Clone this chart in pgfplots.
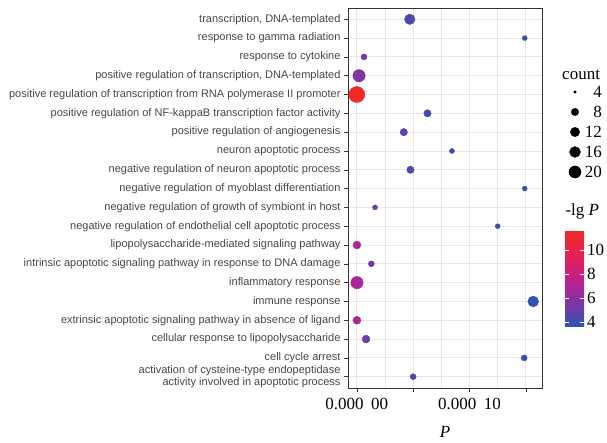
\documentclass[border=0pt]{standalone}
\usepackage{fontspec}
\setmainfont{Liberation Serif}
\newfontfamily\arial{Liberation Sans}
\usepackage{pgfplots}
\pgfplotsset{compat=1.18}
\usepackage{pgfplotstable}
\definecolor{txt}{RGB}{70,70,70}
\definecolor{frame}{RGB}{51,51,51}
\definecolor{gridc}{RGB}{230,230,230}
\pgfplotsset{colormap={lgp}{rgb255(36)=(40,86,180) rgb255(50)=(110,60,170) rgb255(60)=(140,48,160) rgb255(70)=(175,38,150) rgb255(80)=(202,32,125) rgb255(90)=(220,32,100) rgb255(100)=(232,35,72) rgb255(116)=(240,40,40)}}

\pgfplotstableread{
y P lgP count
20 4.70e-5 4.33 15
19 1.49e-4 3.83 5
18 6.4e-6 5.19 6
17 2.0e-6 5.70 21
16 2.5e-12 11.6 36
15 6.27e-5 4.20 8
14 4.17e-5 4.38 8
13 8.44e-5 4.07 5
12 4.76e-5 4.32 8
11 1.49e-4 3.83 5
10 1.62e-5 4.79 5
9 1.25e-4 3.90 5
8 1.26e-7 6.9 9
7 1.29e-5 4.89 6
6 1.6e-7 6.8 21
5 1.565e-4 3.81 16
4 1.26e-7 6.9 9
3 8.2e-6 5.09 9
2 1.485e-4 3.83 6
1 5.0e-5 4.30 6
}\godata

\pgfplotstableread{
y cnt
1 4
2 8
3 12
4 16
5 20
}\sizedata

\begin{document}
\begin{tikzpicture}
\path[use as bounding box] (0,0) rectangle (607pt,443pt);
\begin{axis}[
  at={(348pt,55pt)}, anchor=south west,
  scale only axis, width=194pt, height=380pt,
  xmin=-7.8e-6, xmax=1.643e-4, ymin=0.4, ymax=20.6,
  xtick={0,5e-5,1e-4,1.5e-4},
  xticklabels={0.000\hspace{0.45em}00,,0.000\hspace{0.45em}10,},
  minor xtick={2.5e-5,7.5e-5,1.25e-4},
  scaled x ticks=false,
  ytick={1,...,20},
  yticklabels={{activation of cysteine-type endopeptidase\\activity involved in apoptotic process},
    {cell cycle arrest},
    {cellular response to lipopolysaccharide},
    {extrinsic apoptotic signaling pathway in absence of ligand},
    {immune response},
    {inflammatory response},
    {intrinsic apoptotic signaling pathway in response to DNA damage},
    {lipopolysaccharide-mediated signaling pathway},
    {negative regulation of endothelial cell apoptotic process},
    {negative regulation of growth of symbiont in host},
    {negative regulation of myoblast differentiation},
    {negative regulation of neuron apoptotic process},
    {neuron apoptotic process},
    {positive regulation of angiogenesis},
    {positive regulation of NF-kappaB transcription factor activity},
    {positive regulation of transcription from RNA polymerase II promoter},
    {positive regulation of transcription, DNA-templated},
    {response to cytokine},
    {response to gamma radiation},
    {transcription, DNA-templated}},
  yticklabel style={font=\arial\fontsize{11}{10}\selectfont, text=txt, align=right},
  xticklabel style={font=\fontsize{17}{17}\selectfont, text=black, yshift=-3pt},
  xlabel={\textit{P}},
  xlabel style={font=\fontsize{17}{17}\selectfont, at={(axis description cs:0.5,0)}, anchor=base, yshift=-50pt},
  grid=both,
  major grid style={gridc, line width=0.9pt},
  minor grid style={gridc, line width=0.45pt},
  xtick pos=bottom, ytick pos=left,
  tick align=outside,
  major tick length=4pt, minor tick length=0pt,
  tick style={frame, line width=0.5pt},
  axis line style={frame, line width=0.6pt},
  colormap name=lgp,
  point meta min=3.6, point meta max=11.6,
  colorbar shift/.style={},
  colorbar/width=19pt,
  colorbar,
  colorbar style={
    at={(parent axis.south east)}, anchor=south west,
    xshift=23pt, yshift=61.3pt,
    scale only axis, width=19pt, height=96pt,
    ytick={4,6,8,10}, yticklabels={4,6,8,10},
    ytick pos=both, yticklabel pos=right,
    yticklabel style={font=\fontsize{17}{17}\selectfont, text=black, inner sep=3pt},
    tick align=inside, major tick length=3.8pt,
    tick style={white, line width=0.7pt},
    axis line style={draw=none},
    title={-lg \textit{P}},
    title style={font=\fontsize{17}{17}\selectfont, at={(0,1)}, anchor=south west, xshift=-3pt, yshift=2pt},
  },
]
\addplot[scatter, only marks, mark=*, point meta=explicit,
  scatter/use mapped color={draw=mapped color, fill=mapped color},
  visualization depends on={\thisrow{count}\as\cnt},
  scatter/@pre marker code/.append style={/tikz/mark size={1.335*(1+5*sqrt((\cnt-4)/32))}}]
  table[x=P, y=y, meta=lgP] {\godata};
\end{axis}
\begin{axis}[at={(565pt,271pt)}, anchor=south west, scale only axis,
  width=20pt, height=80pt, xmin=0, xmax=1, ymin=1, ymax=5, y dir=reverse,
  hide axis, clip=false]
\addplot[scatter, only marks, mark=*, point meta=explicit,
  scatter/use mapped color={draw=black, fill=black},
  visualization depends on={\thisrow{cnt}\as\cnt},
  scatter/@pre marker code/.append style={/tikz/mark size={1.335*(1+5*sqrt((\cnt-4)/32))}}]
  table[x expr=0.5, y=y, meta=cnt] {\sizedata};
\addplot[only marks, mark=none, nodes near coords, point meta=explicit symbolic,
  nodes near coords style={anchor=east, font=\fontsize{17}{17}\selectfont, inner sep=0pt}]
  coordinates {(1.85,1)[4] (1.85,2)[8] (1.85,3)[12] (1.85,4)[16] (1.85,5)[20]};
\node[anchor=base west, font=\fontsize{17}{17}\selectfont, inner sep=0pt] at (axis cs:-0.15,0.4) {count};
\end{axis}
\end{tikzpicture}
\end{document}
